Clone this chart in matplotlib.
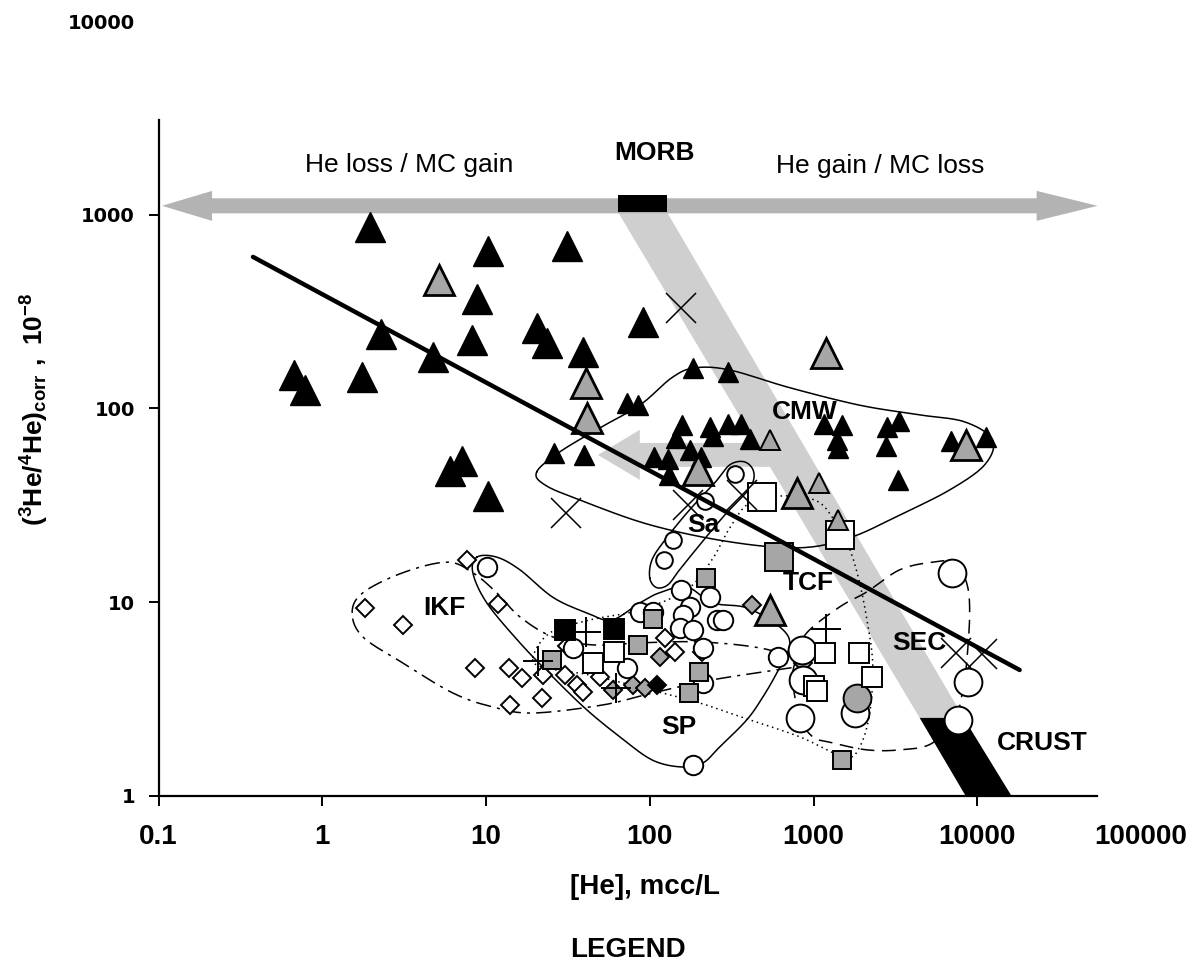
import numpy as np
import matplotlib
matplotlib.use("Agg")
import matplotlib.pyplot as plt
from matplotlib.patches import Polygon, Rectangle
from matplotlib import font_manager as fm

# ---- fonts ----
names = {f.name for f in fm.fontManager.ttflist}
NARROW = "Liberation Sans Narrow" if "Liberation Sans Narrow" in names else "Liberation Sans"
plt.rcParams["mathtext.fontset"] = "custom"
plt.rcParams["mathtext.bf"] = NARROW + ":bold"
plt.rcParams["mathtext.rm"] = NARROW

# ---- data: [He] (mcc/L) and (3He/4He)corr (1e-8) ----
big_black_tri_x = [1.95, 10.3, 8.79, 8.2, 2.28, 4.73, 0.671, 0.783, 1.75, 7.11, 6.01, 10.3, 31.1, 90.6, 20.4, 23.5, 39.0]
big_black_tri_y = [867, 651, 368, 226, 243, 185, 149, 125, 146, 53.6, 47.6, 35.4, 691, 280, 261, 218, 196]

big_gray_tri_x = [5.15, 40.7, 41.2, 1187, 196, 8490, 789, 540]
big_gray_tri_y = [461, 136, 89.4, 194, 48.2, 64.9, 36.7, 9.12]

small_black_tri_x = [183, 299, 72.4, 84.5, 25.9, 39.5, 157, 232, 299, 359, 144, 242, 408, 106,
                     129, 175, 205, 131, 1154, 1486, 1386, 1406, 2800, 2761, 3311, 6883, 11250, 3266]
small_black_tri_y = [162, 155, 107, 104, 59.0, 57.6, 82.3, 80.4, 83.3, 83.3, 70.5, 72.2, 69.7, 56.2,
                     54.9, 61.1, 56.2, 45.4, 83.3, 82.3, 68.9, 62.6, 80.4, 64.1, 86.3, 68.0, 71.3, 42.8]

small_gray_tri_x = [540, 1076, 1406]
small_gray_tri_y = [68.9, 41.3, 26.6]

cross_x = [155, 30.7, 171, 365, 7380, 10640]
cross_y = [331, 28.9, 31.8, 35.8, 5.47, 5.41]

plus_x = [40.6, 20.7, 62, 1187]
plus_y = [7.03, 4.98, 3.61, 7.28]

circle_x = [10.1, 155, 232, 175, 86.9, 104, 159, 256, 279, 152, 183, 211, 33.9, 72.4, 211, 604, 183]
circle_y = [15.2, 11.6, 10.6, 9.46, 8.91, 8.91, 8.60, 8.10, 8.10, 7.37, 7.19, 5.81, 5.81, 4.58, 3.83, 5.22, 1.45]

sa_circle_x = [330, 217, 138, 122]
sa_circle_y = [45.9, 33.3, 21.0, 16.5]

big_circle_x = [847, 859, 824, 1786, 6980, 8730, 7590]
big_circle_y = [5.67, 3.97, 2.53, 2.68, 14.2, 3.88, 2.47]

gray_circle_x = [1836]
gray_circle_y = [3.21]

big_square_x = [483, 1445]
big_square_y = [35.0, 22.3]

square_x = [44.9, 60.3, 1170, 1888, 2266, 1002, 1047]
square_y = [4.86, 5.54, 5.47, 5.47, 4.11, 3.70, 3.48]

black_square_x = [30.3, 60.3]
black_square_y = [7.19, 7.28]

gray_square_x = [25.2, 84.5, 104, 220, 199, 173, 1486]
gray_square_y = [5.04, 6.02, 8.20, 13.3, 4.37, 3.40, 1.53]

big_gray_square_x = [613]
big_gray_square_y = [17.1]

diamond_x = [7.63, 1.82, 3.10, 11.8, 8.54, 13.8, 16.5, 22.2, 21.9, 14.0, 30.3, 31.1, 35.8, 39.0, 49.5, 124, 142, 208]
diamond_y = [16.5, 9.35, 7.64, 9.80, 4.58, 4.58, 4.07, 4.21, 3.21, 2.95, 4.21, 5.95, 3.74, 3.44, 4.11, 6.54, 5.54, 5.54]

gray_diamond_x = [115, 78.8, 93.3, 59.4, 420, 859]
gray_diamond_y = [5.22, 3.74, 3.61, 3.53, 9.68, 4.86]

black_diamond_x = [110]
black_diamond_y = [3.74]

# regression line end points
trend_x = [0.377, 18150]
trend_y = [606, 4.47]

# ---- field outlines ----
cmw_x = [20.4, 28.2, 49.5, 86.9, 136, 188, 308, 716, 1914, 4450, 8380, 12400, 11100, 6790, 3360, 1663, 824, 308, 100, 37.4, 22.9]
cmw_y = [47.1, 59.7, 79.4, 104, 144, 162, 158, 128, 104, 92.7, 85.3, 68.9, 51.2, 38.0, 28.2, 21.5, 19.1, 20.5, 25.1, 33.7, 40.3]

ikf_x = [1.52, 1.77, 3.10, 5.77, 8.30, 11.6, 16.1, 25.6, 44.9, 86.9, 202, 470, 824, 884, 716, 239, 104, 51.6, 19.3, 11.0, 6.27, 3.10, 1.77]
ikf_y = [8.81, 11.2, 14.2, 16.1, 14.2, 11.2, 8.40, 6.62, 6.02, 6.17, 6.24, 5.81, 5.04, 4.69, 4.58, 3.97, 3.40, 2.95, 2.68, 2.88, 3.40, 4.86, 6.62]

sp_x = [8.79, 11.6, 16.1, 25.6, 41.3, 58.6, 86.9, 115, 168, 242, 391, 622, 716, 597, 490, 391, 267, 211, 159, 104, 65.6, 41.3, 25.6, 16.1, 10.1, 8.30]
sp_y = [17.1, 17.1, 14.7, 10.6, 8.81, 8.10, 9.92, 11.2, 12.0, 9.92, 9.35, 7.46, 6.02, 4.32, 3.24, 2.47, 1.79, 1.48, 1.41, 1.53, 2.02, 2.78, 4.11, 6.17, 9.92, 14.2]

tcf_x = [19.3, 24.5, 43.0, 86.9, 168, 239, 308, 408, 658, 1047, 1347, 1641, 1862, 2084, 2298, 2204, 1914, 1550, 824, 408, 202, 100, 43.0, 22.9]
tcf_y = [5.16, 6.94, 8.10, 9.12, 11.6, 16.5, 24.2, 32.6, 35.4, 33.3, 26.3, 19.3, 13.8, 8.81, 4.86, 2.68, 1.79, 1.59, 2.02, 2.47, 3.02, 3.53, 4.21, 4.58]

sec_x = [789, 908, 1445, 2113, 3360, 5340, 7280, 8610, 8990, 8610, 8150, 7480, 5340, 3360, 2113, 1310, 989, 824, 746]
sec_y = [5.22, 6.94, 9.46, 11.3, 14.7, 16.1, 16.0, 12.6, 8.81, 4.86, 3.53, 2.68, 1.88, 1.73, 1.73, 1.88, 2.02, 2.56, 3.97]

sa_x = [100, 103, 124, 175, 249, 308, 380, 431, 408, 287, 202, 152, 129, 110]
sa_y = [13.3, 16.5, 21.0, 30.0, 41.3, 51.2, 53.0, 47.1, 38.9, 28.2, 19.8, 14.7, 12.3, 11.9]

# ---- MORB -> crust band and arrows ----
arrow_x = [0.105, 0.212, 0.212, 23050, 23050, 54300, 23050, 23050, 0.212, 0.212]
arrow_y = [1112, 1328, 1216, 1216, 1328, 1112, 930, 1017, 1017, 930]
morb_x = [63.8, 127]
morb_y = [1035, 1267]
band_x = [63.8, 127, 8260, 4450]
band_y = [1035, 1035, 2.53, 2.53]
crust_x = [4450, 8260, 16200, 8500]
crust_y = [2.53, 2.53, 1.0, 1.0]
inner_arrow_x = [48.2, 86.9, 86.9, 716, 716, 86.9, 86.9]
inner_arrow_y = [57.6, 77.6, 66.4, 66.4, 50.0, 50.0, 42.8]

labels = [("CMW", 884, 96), ("Sa", 211, 25), ("TCF", 935, 12.6), ("IKF", 5.58, 9.35),
          ("SP", 150, 2.27), ("SEC", 4450, 6.17), ("CRUST", 25100, 1.88), ("MORB", 107, 2090)]

GRAY = "#a6a6a6"


def smooth_closed(xs, ys, n=14):
    pts = np.column_stack([np.log10(xs), np.log10(ys)])
    m = len(pts)
    out = []
    for i in range(m):
        p0, p1, p2, p3 = pts[i - 1], pts[i], pts[(i + 1) % m], pts[(i + 2) % m]
        for t in np.linspace(0, 1, n, endpoint=False):
            out.append(0.5 * (2 * p1 + (-p0 + p2) * t + (2 * p0 - 5 * p1 + 4 * p2 - p3) * t ** 2
                              + (-p0 + 3 * p1 - 3 * p2 + p3) * t ** 3))
    out.append(out[0])
    out = np.array(out)
    return 10 ** out[:, 0], 10 ** out[:, 1]


fig = plt.figure(figsize=(11.9, 9.64), dpi=100)
ax = fig.add_axes([0.1333, 0.1743, 0.8255, 0.8039])
ax.set_xscale("log")
ax.set_yscale("log")
ax.set_xlim(0.1, 1e5)
ax.set_ylim(1, 1e4)

# band, arrows
ax.add_patch(Polygon(list(zip(band_x, band_y)), closed=True, fc="#cfcfcf", ec="none", zorder=1))
ax.add_patch(Polygon(list(zip(inner_arrow_x, inner_arrow_y)), closed=True, fc="#cfcfcf", ec="none", zorder=1))
ax.add_patch(Polygon(list(zip(crust_x, crust_y)), closed=True, fc="black", ec="none", zorder=1.5))
ax.add_patch(Polygon(list(zip(arrow_x, arrow_y)), closed=True, fc="#b3b3b3", ec="none", zorder=1))
ax.add_patch(Rectangle((morb_x[0], morb_y[0]), morb_x[1] - morb_x[0], morb_y[1] - morb_y[0],
                       fc="black", ec="none", zorder=1.6))

# field outlines
for xs, ys, ls in [(cmw_x, cmw_y, "-"), (sp_x, sp_y, "-"), (sa_x, sa_y, "-"),
                   (ikf_x, ikf_y, (0, (10, 4, 2, 4))), (tcf_x, tcf_y, (0, (1, 2.5))),
                   (sec_x, sec_y, (0, (9, 5)))]:
    sx, sy = smooth_closed(xs, ys)
    ax.plot(sx, sy, color="black", lw=1.1, ls=ls, zorder=2)

# markers
mew = 1.4
ax.plot(diamond_x, diamond_y, "D", ms=9, mfc="white", mec="black", mew=mew, ls="none", zorder=3)
ax.plot(gray_diamond_x, gray_diamond_y, "D", ms=9, mfc=GRAY, mec="black", mew=mew, ls="none", zorder=3)
ax.plot(black_diamond_x, black_diamond_y, "D", ms=9, mfc="black", mec="black", mew=mew, ls="none", zorder=3)
ax.plot(circle_x, circle_y, "o", ms=14, mfc="white", mec="black", mew=mew, ls="none", zorder=3)
ax.plot(sa_circle_x, sa_circle_y, "o", ms=12, mfc="white", mec="black", mew=mew, ls="none", zorder=3)
ax.plot(big_circle_x, big_circle_y, "o", ms=20, mfc="white", mec="black", mew=mew, ls="none", zorder=3)
ax.plot(gray_circle_x, gray_circle_y, "o", ms=20, mfc=GRAY, mec="black", mew=mew, ls="none", zorder=3.1)
ax.plot(square_x, square_y, "s", ms=14, mfc="white", mec="black", mew=mew, ls="none", zorder=3.2)
ax.plot(big_square_x, big_square_y, "s", ms=20, mfc="white", mec="black", mew=mew, ls="none", zorder=3.2)
ax.plot(gray_square_x, gray_square_y, "s", ms=13, mfc=GRAY, mec="black", mew=mew, ls="none", zorder=3.2)
ax.plot(big_gray_square_x, big_gray_square_y, "s", ms=20, mfc=GRAY, mec="black", mew=mew, ls="none", zorder=3.2)
ax.plot(black_square_x, black_square_y, "s", ms=14, mfc="black", mec="black", mew=mew, ls="none", zorder=3.2)
ax.plot(plus_x, plus_y, "+", ms=21, mec="black", mew=1.4, ls="none", zorder=3.3)
ax.plot(cross_x, cross_y, "x", ms=21, mec="black", mew=1.1, ls="none", zorder=3.3)
ax.plot(small_black_tri_x, small_black_tri_y, "^", ms=14, mfc="black", mec="black", mew=1, ls="none", zorder=3.4)
ax.plot(small_gray_tri_x, small_gray_tri_y, "^", ms=14, mfc=GRAY, mec="black", mew=mew, ls="none", zorder=3.4)
ax.plot(big_black_tri_x, big_black_tri_y, "^", ms=21, mfc="black", mec="black", mew=1, ls="none", zorder=3.5)
ax.plot(big_gray_tri_x, big_gray_tri_y, "^", ms=21, mfc=GRAY, mec="black", mew=2, ls="none", zorder=3.5)

# trend line
ax.plot(trend_x, trend_y, color="black", lw=3.2, solid_capstyle="round", zorder=5)

# text
for txt, x, y in labels:
    ax.text(x, y, txt, fontsize=19, fontweight="bold", family="Liberation Sans",
            ha="center", va="center", zorder=6)
ax.text(3.38, 1811, "He loss / MC gain", fontsize=19, family="Liberation Sans", ha="center", va="center")
ax.text(2540, 1788, "He gain / MC loss", fontsize=19, family="Liberation Sans", ha="center", va="center")

# axes styling
for s in ["top", "right"]:
    ax.spines[s].set_visible(False)
ax.spines["left"].set_bounds(1, 3100)
ax.spines["bottom"].set_bounds(0.1, 54000)
ax.spines["left"].set_linewidth(1.6)
ax.spines["bottom"].set_linewidth(1.6)

xticks = [0.1, 1, 10, 100, 1000, 10000, 100000]
yticks = [1, 10, 100, 1000, 10000]
ax.set_xticks(xticks)
ax.set_xticklabels(["0.1", "1", "10", "100", "1000", "10000", "100000"])
ax.set_yticks(yticks)
ax.set_yticklabels(["1", "10", "100", "1000", "10000"])
ax.xaxis.set_minor_locator(matplotlib.ticker.NullLocator())
ax.yaxis.set_minor_locator(matplotlib.ticker.NullLocator())
ax.tick_params(direction="out", length=7, width=1.4)
ax.tick_params(axis="x", pad=13)
ax.tick_params(axis="y", pad=10)
ax.xaxis.get_major_ticks()[-1].tick1line.set_visible(False)
ax.yaxis.get_major_ticks()[-1].tick1line.set_visible(False)
for lab in ax.get_xticklabels():
    lab.set_family(NARROW)
    lab.set_fontweight("bold")
    lab.set_fontsize(20)
for lab in ax.get_yticklabels():
    lab.set_family("DejaVu Sans")
    lab.set_fontweight("bold")
    lab.set_fontsize(14)

fig.text(645 / 1190, 1 - 887 / 964, "[He], mcc/L", family=NARROW, fontweight="bold",
         fontsize=20, ha="center", va="center")
fig.text(628 / 1190, 1 - 950 / 964, "LEGEND", family=NARROW, fontweight="bold",
         fontsize=20, ha="center", va="center")
fig.text(35 / 1190, 1 - 409 / 964, r"$\mathbf{(^{3}He/^{4}He)_{corr}\ ,\ 10^{-8}}$",
         fontsize=19, rotation=90, ha="center", va="center")

fig.savefig("out.png", dpi=100)
